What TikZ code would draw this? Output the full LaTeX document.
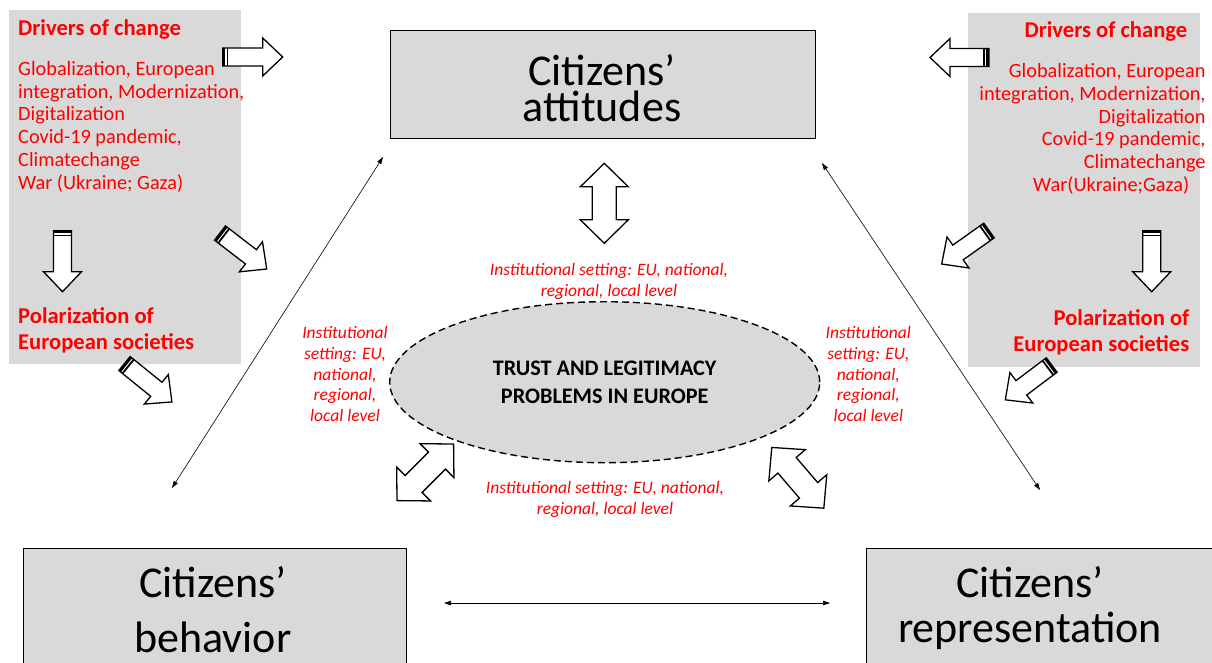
\documentclass[tikz,border=0pt]{standalone}
\usepackage{fontspec}
\setmainfont{Carlito}
\usetikzlibrary{arrows.meta,shapes.geometric}
\definecolor{panelgray}{HTML}{D9D9D9}
\definecolor{drvred}{HTML}{FF0000}
\newcommand\setfs[2]{\fontsize{#1}{#2}\selectfont}
\newcommand\topline[1]{\rule{0pt}{#1pt}}

\tikzset{
  blockedge/.style={draw=black, fill=white, line width=1.3pt, line join=miter},
  % single block arrow along +x, tail at origin, with a striped tail
  pics/onearrow/.style={code={
    \path[blockedge] (0,-9) -- ({#1-20},-9) -- ({#1-20},-19) -- (#1,0)
       -- ({#1-20},19) -- ({#1-20},9) -- (0,9) -- cycle;
    \fill[black] (0,-9) rectangle (2.6,9);
    \fill[black] (3.8,-9) rectangle (5.6,9);
  }},
  % double-headed block arrow centred on the origin
  pics/twoarrow/.style={code={
    \path[blockedge] ({-#1/2},0) -- ({-#1/2+23.5},-24) -- ({-#1/2+23.5},-12)
       -- ({#1/2-23.5},-12) -- ({#1/2-23.5},-24) -- ({#1/2},0)
       -- ({#1/2-23.5},24) -- ({#1/2-23.5},12) -- ({-#1/2+23.5},12)
       -- ({-#1/2+23.5},24) -- cycle;
  }},
}

\begin{document}
\begin{tikzpicture}[x=1pt,y=-1pt,
  panel/.style={fill=panelgray, draw=none},
  citbox/.style={fill=panelgray, draw=black, line width=1.3pt},
  bigtext/.style={inner sep=0pt, align=center, anchor=north},
  drvtitle/.style={inner sep=0pt, text=drvred, font=\setfs{22.6}{26}\bfseries},
  drvlist/.style={inner sep=0pt, text=drvred, font=\setfs{20.3}{22.8}},
  instlabel/.style={inner sep=0pt, text=drvred, align=center, anchor=north, font=\setfs{17.5}{21}\itshape},
  thinlink/.style={line width=0.6pt, {Triangle[length=7pt,width=4.5pt]}-{Triangle[length=7pt,width=4.5pt]}},
]
\clip (0,0) rectangle (1212,662);
\fill[white] (0,0) rectangle (1212,662);

% side panels: drivers of change
\node[panel, anchor=north west, minimum width=232, minimum height=354] (lpanel) at (9,10) {};
\node[panel, anchor=north west, minimum width=232, minimum height=354] (rpanel) at (968,13) {};

\node[drvtitle, anchor=base west] (ldrv) at (18,35) {Drivers of change};
\node[drvlist, anchor=north west, align=left] (llist) at (18,59)
  {\topline{16}Globalization, European\\integration, Modernization,\\Digitalization\\Covid-19 pandemic,\\Climatechange\\War (Ukraine; Gaza)};
\node[drvtitle, anchor=north west, align=left] (lpol) at (18,303.3)
  {\topline{20}Polarization of\\European societies};

\node[drvtitle, anchor=base east] (rdrv) at (1187.5,37.7) {Drivers of change};
\node[drvlist, anchor=north east, align=right] (rlist) at (1205.7,61.3)
  {\topline{16}Globalization, European\\integration, Modernization,\hspace*{2.4pt}\\Digitalization\hspace*{4.7pt}\\Covid-19 pandemic,\hspace*{6.4pt}\\Climatechange\hspace*{11.7pt}\\War(Ukraine;Gaza)\hspace*{16.4pt}};
\node[drvtitle, anchor=north east, align=right] (rpol) at (1189.5,305)
  {\topline{20}Polarization of\\European societies};

% citizens' boxes
\node[citbox, anchor=north west, minimum width=425, minimum height=108] (att) at (390,30) {};
\node[bigtext, font=\setfs{44}{36}] (att-t) at (602,49) {\topline{36}Citizens’\\attitudes};

\node[citbox, anchor=north west, minimum width=383, minimum height=140] (beh) at (23,548) {};
\node[bigtext, font=\setfs{44}{55}] (beh-t) at (213,561) {\topline{36}Citizens’\\behavior};

\node[citbox, anchor=north west, minimum width=360, minimum height=140] (rep) at (866,548) {};
\node[bigtext, font=\setfs{44}{45}] (rep-t) at (1030,561) {\topline{36}Citizens’\\representation};

% central problem
\node[ellipse, draw=black, dash pattern=on 7pt off 4pt, line width=1.4pt, fill=panelgray,
      minimum width=430, minimum height=161, inner sep=0pt, align=center,
      font=\setfs{22.2}{27.3}\bfseries] (trust) at (604.7,382.2)
  {TRUST AND LEGITIMACY\\PROBLEMS IN EUROPE};

% institutional setting labels
\node[instlabel] (inst-top) at (609,260) {\topline{15}Institutional setting: EU, national,\\regional, local level};
\node[instlabel, font=\setfs{17.5}{20.8}\itshape] (inst-left) at (345,323.3) {\topline{15}Institutional\\setting: EU,\\national,\\regional,\\local level};
\node[instlabel, font=\setfs{17.5}{20.8}\itshape] (inst-right) at (868.3,323.3) {\topline{15}Institutional\\setting: EU,\\national,\\regional,\\local level};
\node[instlabel] (inst-bot) at (605,478) {\topline{15}Institutional setting: EU, national,\\regional, local level};

% block arrows from the drivers
\pic[shift={(222.7,57)}] (la1) at (0,0) {onearrow=60};
\pic[shift={(62.5,230.7)}, rotate=-90] (la2) at (0,0) {onearrow=61};
\pic[shift={(220,233)}, rotate=-37.6] (la3) at (0,0) {onearrow=59};
\pic[shift={(124.5,363.5)}, rotate=-39] (la4) at (0,0) {onearrow=61};
\pic[shift={(989,57.5)}, rotate=180] (ra1) at (0,0) {onearrow=59};
\pic[shift={(1151.7,230.7)}, rotate=-90] (ra2) at (0,0) {onearrow=61};
\pic[shift={(989,230.5)}, rotate=-144.7] (ra3) at (0,0) {onearrow=58};
\pic[shift={(1051.7,365)}, rotate=-143.1] (ra4) at (0,0) {onearrow=58};

% two-way block arrows around the problem
\pic[shift={(604.3,203.3)}, rotate=90] (da1) at (0,0) {twoarrow=80};
\pic[shift={(425.3,472.3)}, rotate=45] (da2) at (0,0) {twoarrow=80};
\pic[shift={(797.8,477.8)}, rotate=-49.4] (da3) at (0,0) {twoarrow=80};

% thin links between the citizens' boxes
\coordinate (att-sw) at (383,157);
\coordinate (beh-ne) at (172,488);
\coordinate (att-se) at (822,163);
\coordinate (rep-nw) at (1040,490);
\coordinate (beh-e) at (444,603);
\coordinate (rep-w) at (830,603);
\draw[thinlink] (att-sw) -- (beh-ne);
\draw[thinlink] (att-se) -- (rep-nw);
\draw[thinlink] (beh-e) -- (rep-w);
\end{tikzpicture}
\end{document}
